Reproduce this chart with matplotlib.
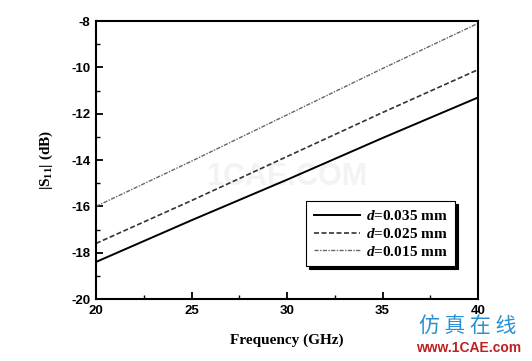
import numpy as np
import matplotlib
matplotlib.use('Agg')
import matplotlib.pyplot as plt
from matplotlib.ticker import MultipleLocator

# data
freq = [20, 25, 30, 35, 40]
s11_035 = [-18.4, -16.6, -14.85, -13.05, -11.3]
s11_025 = [-17.6, -15.75, -13.85, -11.95, -10.1]
s11_015 = [-16.0, -14.05, -12.05, -10.05, -8.1]
labels = ['$\\it{d}$=0.035 mm', '$\\it{d}$=0.025 mm', '$\\it{d}$=0.015 mm']

plt.rcParams['axes.unicode_minus'] = False
plt.rcParams['mathtext.fontset'] = 'custom'
plt.rcParams['mathtext.rm'] = 'Liberation Serif:bold'
plt.rcParams['mathtext.it'] = 'Liberation Serif:italic:bold'
plt.rcParams['mathtext.default'] = 'rm'

fig = plt.figure(figsize=(5.32, 3.61), dpi=100)
ax = fig.add_axes([0.1805, 0.1717, 0.718, 0.770])

ax.plot(freq, s11_035, color='black', lw=1.4, ls='-', label=labels[0])
ax.plot(freq, s11_025, color='#333333', lw=1.2, ls=(0, (3, 1.5)), label=labels[1])
ax.plot(freq, s11_015, color='#666666', lw=1.0, ls=(0, (3, 1, 1, 1)), label=labels[2])

ax.set_xlim(20, 40)
ax.set_ylim(-20, -8)
ax.xaxis.set_major_locator(MultipleLocator(5))
ax.xaxis.set_minor_locator(MultipleLocator(2.5))
ax.yaxis.set_major_locator(MultipleLocator(2))
ax.yaxis.set_minor_locator(MultipleLocator(1))
ax.tick_params(which='major', direction='in', length=5, width=1.3,
               top=False, right=False, pad=4)
ax.tick_params(which='minor', direction='in', length=3, width=1.0)
ax.set_xticks(ax.get_xticks())
ax.set_yticks(ax.get_yticks())
ax.set_xticklabels([f'{int(v)}' for v in ax.get_xticks()],
                   family='Liberation Sans', fontweight='bold', fontsize=9.5)
ax.set_yticklabels([f'{int(v)}' for v in ax.get_yticks()],
                   family='Liberation Sans', fontweight='bold', fontsize=9.5)
ax.set_xlim(20, 40)
ax.set_ylim(-20, -8)
for sp in ax.spines.values():
    sp.set_linewidth(1.5)

ax.set_xlabel('Frequency (GHz)', family='Liberation Serif', fontweight='bold',
              fontsize=11, labelpad=12)
ax.set_ylabel('|S$_{11}$| (dB)', family='Liberation Serif', fontweight='bold',
              fontsize=11, labelpad=12)

leg = ax.legend(loc='lower right', bbox_to_anchor=(0.96, 0.09),
                prop={'family': 'Liberation Serif', 'weight': 'bold', 'size': 11},
                frameon=True, fancybox=False, edgecolor='black', framealpha=1,
                shadow={'color': 'black', 'alpha': 1}, handlelength=3.0,
                borderpad=0.5, labelspacing=0.25, handletextpad=0.4)
leg.get_frame().set_linewidth(0.8)

# watermark texts
ax.text(0.5, 0.44, '1CAE.COM', transform=ax.transAxes, ha='center', va='center',
        fontsize=22, fontweight='bold', color='#f3f3f3', family='Liberation Sans',
        zorder=0)
fig.text(0.88, 0.095, '仿 真 在 线', ha='center', va='center', fontsize=15,
         color='#2a8fd0', family=['Noto Sans CJK SC', 'DejaVu Sans'])
fig.text(0.88, 0.035, 'www.1CAE.com', ha='center', va='center', fontsize=10,
         color='#c02020', fontweight='bold', family='Liberation Sans')

fig.savefig('out.png', dpi=100)
